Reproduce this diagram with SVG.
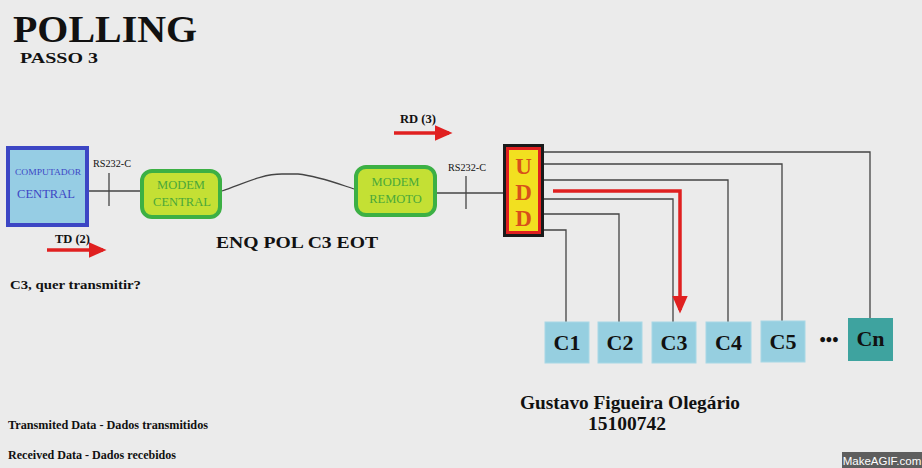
<svg xmlns="http://www.w3.org/2000/svg" width="922" height="468" viewBox="0 0 922 468">
<style>
text{font-family:"Liberation Serif","Times New Roman",serif;font-weight:bold;fill:#111}
.ln{stroke:#444;stroke-width:1.3;fill:none}
.modem{fill:#c4e034;stroke:#3cb044;stroke-width:4}
.mt{fill:#4aa83a;font-size:12.5px;font-weight:normal;text-anchor:middle}
.c{fill:#96cfe0;stroke:#a8d8e6;stroke-width:1}
.ct{font-size:22px;text-anchor:middle}
.red{stroke:#e02020;stroke-width:3.5;fill:none}
.u{font-size:23px;fill:#d8501a;text-anchor:middle}
</style>
<defs>
<marker id="ah" markerWidth="6" markerHeight="6" refX="4" refY="3" orient="auto" markerUnits="strokeWidth">
<path d="M0,0.8 L5,3 L0,5.2 z" fill="#e02020"/>
</marker>
</defs>
<rect width="922" height="468" fill="#ebebeb"/>
<text x="13" y="42" style="font-size:38px" textLength="184" lengthAdjust="spacingAndGlyphs">POLLING</text>
<text x="20" y="63" style="font-size:15px" textLength="78" lengthAdjust="spacingAndGlyphs">PASSO 3</text>

<g id="connectors">
<line class="ln" x1="89" y1="191" x2="140" y2="191"/>
<line class="ln" x1="109" y1="173" x2="109" y2="206"/>
<path class="ln" d="M222,191 C245,183 262,174 282,174 L298,174 C318,176 336,183 354,189"/>
<line class="ln" x1="437" y1="193" x2="503" y2="193"/>
<line class="ln" x1="466" y1="176" x2="466" y2="209"/>
<polyline class="ln" points="544,152 870,152 870,318"/>
<polyline class="ln" points="544,164 782,164 782,321"/>
<polyline class="ln" points="544,180 728,180 728,322"/>
<polyline class="ln" points="544,199 673,199 673,322"/>
<polyline class="ln" points="544,214 619,214 619,322"/>
<polyline class="ln" points="544,230 566,230 566,322"/>
<polyline class="red" points="553,191 680,191 680,310" marker-end="url(#ah)"/>
<line class="red" x1="47" y1="250" x2="103" y2="250" marker-end="url(#ah)"/>
<line class="red" x1="394" y1="133" x2="449" y2="133" marker-end="url(#ah)"/>
</g>

<text x="93" y="167" style="font-size:9.5px;font-weight:normal" textLength="38" lengthAdjust="spacingAndGlyphs">RS232-C</text>
<text x="448" y="171" style="font-size:9.5px;font-weight:normal" textLength="38" lengthAdjust="spacingAndGlyphs">RS232-C</text>
<text x="55" y="243" style="font-size:12.5px" textLength="35" lengthAdjust="spacingAndGlyphs">TD (2)</text>
<text x="400" y="123" style="font-size:12.5px" textLength="36" lengthAdjust="spacingAndGlyphs">RD (3)</text>

<g id="computador">
<rect x="8" y="148" width="79" height="77" fill="#96cde4" stroke="#3c46c4" stroke-width="4"/>
<text x="15" y="175" style="font-size:9px;font-weight:normal;fill:#3c46c4" textLength="66" lengthAdjust="spacingAndGlyphs">COMPUTADOR</text>
<text x="17" y="198" style="font-size:13px;font-weight:normal;fill:#3c46c4" textLength="58" lengthAdjust="spacingAndGlyphs">CENTRAL</text>
</g>

<g id="modem-central">
<rect class="modem" x="142" y="171" width="78" height="46" rx="10"/>
<text class="mt" x="181" y="189">MODEM</text>
<text class="mt" x="182" y="206" textLength="58" lengthAdjust="spacingAndGlyphs">CENTRAL</text>
</g>

<g id="modem-remoto">
<rect class="modem" x="356" y="167" width="79" height="48" rx="10"/>
<text class="mt" x="395.5" y="186">MODEM</text>
<text class="mt" x="395.5" y="203">REMOTO</text>
</g>

<g id="udd">
<rect x="504.5" y="145.5" width="38" height="90" fill="#e02020" stroke="#1a1a1a" stroke-width="3"/>
<rect x="509" y="150" width="29" height="81" fill="#f2e020"/>
<text class="u" x="523.5" y="174">U</text>
<text class="u" x="523.5" y="200">D</text>
<text class="u" x="523.5" y="226">D</text>
</g>

<text x="216" y="248" style="font-size:17px" textLength="162" lengthAdjust="spacingAndGlyphs">ENQ POL C3 EOT</text>
<text x="10" y="289" style="font-size:13.5px" textLength="131" lengthAdjust="spacingAndGlyphs">C3, quer transmitir?</text>

<g id="c1"><rect class="c" x="545" y="322" width="44" height="41"/><text class="ct" x="567" y="350">C1</text></g>
<g id="c2"><rect class="c" x="598" y="322" width="44" height="41"/><text class="ct" x="620" y="350">C2</text></g>
<g id="c3"><rect class="c" x="652" y="322" width="44" height="41"/><text class="ct" x="674" y="350">C3</text></g>
<g id="c4"><rect class="c" x="706" y="322" width="45" height="41"/><text class="ct" x="728.5" y="350">C4</text></g>
<g id="c5"><rect class="c" x="761" y="321" width="44" height="41"/><text class="ct" x="783" y="349">C5</text></g>
<text x="829" y="346" style="font-size:18px;text-anchor:middle">•••</text>
<g id="cn"><rect x="848" y="318" width="45" height="43" fill="#3ea39f"/><text class="ct" x="870.5" y="346">Cn</text></g>

<text x="520" y="409" style="font-size:18.5px" textLength="220" lengthAdjust="spacingAndGlyphs">Gustavo Figueira Olegário</text>
<text x="588" y="430" style="font-size:18.5px" textLength="78" lengthAdjust="spacingAndGlyphs">15100742</text>

<text x="8" y="429" style="font-size:12px" textLength="200" lengthAdjust="spacingAndGlyphs">Transmited Data - Dados transmitidos</text>
<text x="8" y="459" style="font-size:12px" textLength="168" lengthAdjust="spacingAndGlyphs">Received Data - Dados recebidos</text>

<rect x="842" y="452" width="80" height="16" fill="#5e5e5e"/>
<text x="882" y="464.5" style="font-family:'Liberation Sans',Arial,sans-serif;font-weight:normal;font-size:11.5px;fill:#fff;text-anchor:middle">MakeAGIF.com</text>
</svg>
